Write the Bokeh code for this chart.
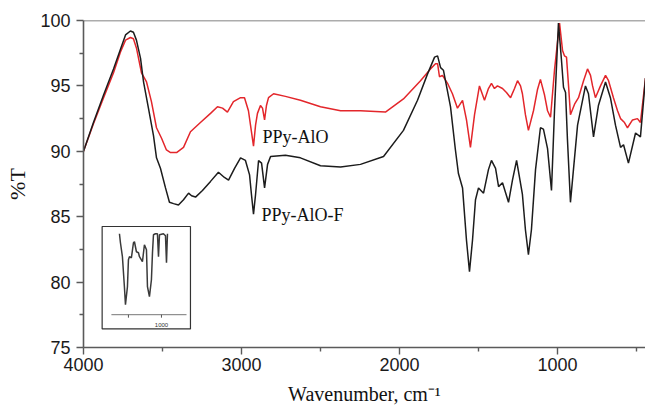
from bokeh.plotting import figure
from bokeh.models import Range1d, FixedTicker, Span
from bokeh.core.properties import value
from bokeh.embed import file_html
from bokeh.resources import INLINE

# ---- main spectra (wavenumber cm-1, %T) ----
black_wn = [4000, 3937, 3873, 3810, 3766, 3734, 3703, 3684, 3665, 3639, 3620, 3589, 3557, 3538,
            3513, 3481, 3456, 3430, 3399, 3367, 3335, 3316, 3291, 3247, 3196, 3146, 3108, 3082,
            3044, 3006, 2975, 2949, 2937, 2924, 2911, 2892, 2873, 2854, 2835, 2816, 2722, 2627,
            2500, 2373, 2247, 2101, 1975, 1886, 1823, 1778, 1759, 1740, 1722, 1677, 1646, 1627,
            1601, 1576, 1557, 1538, 1519, 1500, 1468, 1437, 1418, 1392, 1373, 1348, 1310, 1285,
            1259, 1222, 1203, 1184, 1165, 1139, 1108, 1089, 1063, 1038, 1019, 994, 975, 962, 949,
            937, 918, 899, 873, 823, 804, 772, 741, 696, 665, 633, 601, 582, 551, 506, 475, 443]
black_T = [90.0, 92.2, 94.3, 96.3, 97.8, 98.9, 99.2, 99.1, 98.5, 97.1, 95.3, 93.3, 91.2, 89.5,
           88.7, 87.2, 86.1, 86.0, 85.9, 86.3, 86.8, 86.6, 86.5, 87.0, 87.7, 88.4, 88.0, 87.8,
           88.7, 89.5, 89.3, 88.2, 86.7, 85.2, 86.7, 89.3, 89.1, 87.2, 89.0, 89.6, 89.7, 89.5,
           88.9, 88.8, 89.0, 89.6, 91.6, 93.9, 95.9, 97.2, 97.3, 96.4, 96.2, 93.4, 90.1, 88.3,
           87.2, 83.2, 80.8, 83.2, 86.3, 87.2, 86.8, 88.6, 89.3, 88.7, 87.3, 87.6, 86.1, 87.8,
           89.3, 86.7, 84.0, 82.1, 84.0, 88.6, 91.8, 91.7, 90.2, 87.0, 93.1, 99.8, 97.0, 94.9, 94.5,
           90.9, 86.1, 88.6, 92.0, 95.0, 94.4, 91.1, 93.5, 95.3, 94.1, 92.0, 90.3, 90.5, 89.1, 91.4,
           91.1, 95.6]

red_wn = [4000, 3937, 3873, 3810, 3766, 3734, 3703, 3684, 3665, 3633, 3601, 3570, 3538, 3506,
          3475, 3449, 3411, 3367, 3323, 3260, 3196, 3152, 3120, 3089, 3051, 3006, 2981, 2956,
          2943, 2924, 2911, 2899, 2880, 2867, 2854, 2842, 2829, 2797, 2722, 2627, 2500, 2373,
          2247, 2089, 1975, 1867, 1804, 1772, 1759, 1747, 1728, 1696, 1665, 1633, 1601, 1576,
          1551, 1525, 1494, 1462, 1437, 1418, 1399, 1380, 1348, 1323, 1297, 1272, 1253, 1234,
          1222, 1203, 1184, 1152, 1127, 1108, 1082, 1063, 1044, 1019, 987, 968, 956, 943, 930,
          918, 892, 867, 835, 810, 791, 778, 760, 728, 696, 677, 665, 646, 620, 601, 576, 557,
          525, 494, 475, 443]
red_T = [90.0, 92.1, 94.1, 96.0, 97.6, 98.5, 98.7, 98.6, 97.9, 96.0, 95.3, 93.8, 91.8, 91.0,
         90.1, 89.9, 89.9, 90.3, 91.5, 92.2, 92.9, 93.4, 93.3, 93.0, 93.8, 94.1, 94.1, 93.1,
         92.0, 90.4, 92.0, 92.9, 93.5, 93.3, 92.4, 93.5, 94.1, 94.4, 94.2, 93.9, 93.4, 93.1,
         93.1, 93.0, 94.0, 95.4, 96.3, 96.7, 96.7, 95.7, 95.8, 95.2, 94.4, 93.3, 93.9, 92.4,
         90.3, 92.8, 95.0, 93.9, 94.8, 95.2, 94.8, 95.0, 94.8, 94.5, 94.1, 94.8, 95.4, 95.0,
         94.4, 92.8, 91.6, 93.1, 94.7, 95.5, 94.3, 93.1, 92.6, 96.2, 99.8, 97.7, 97.3, 97.2, 95.0,
         92.8, 93.6, 94.1, 95.4, 96.3, 95.8, 95.0, 94.1, 95.0, 95.8, 95.4, 94.9, 94.1, 93.1, 92.5,
         92.2, 91.8, 92.4, 92.5, 92.2, 95.6]

series_names = ["PPy-AlO", "PPy-AlO-F"]
label_wn = [2867, 2873]
label_T = [91.1, 85.1]

x_ticks = [4000, 3000, 2000, 1000]
x_minor = [3500, 2500, 1500, 500]
y_ticks = [75, 80, 85, 90, 95, 100]
y_minor = [77.5, 82.5, 87.5, 92.5, 97.5]

# ---- inset spectrum (its own wavenumber / %T units) ----
inset_wn = [1636, 1621, 1591, 1561, 1545, 1515, 1500, 1485, 1455, 1424, 1409, 1379, 1348, 1333,
            1288, 1258, 1227, 1212, 1182, 1152, 1136, 1121, 1091, 1061, 1045, 1030, 970, 939,
            924, 909]
inset_T = [100, 96.4, 90.8, 78.8, 71.6, 78.8, 89.6, 90.8, 90.4, 96.4, 96.8, 92.8, 92.4, 90.8,
           88.8, 95.6, 93.6, 78.8, 74.8, 81.6, 92.4, 99.6, 100, 100, 90.8, 99.6, 100, 99.2,
           88.4, 100]
inset_ticks = [1500, 1000]
inset_tick_labels = ["1000"]
inset_tick_label_wn = [1000]

# ---- geometry ----
X0, X1 = 4000, 443
Y0, Y1 = 75, 100
box_wn = (3882, 3323)
box_T = (76.42, 84.25)
IXL, IXR = 1898, 561
IYB, IYT = 61.9, 102.9
inset_axis_T = 67.6
inset_axis_span = (1758, 621)

fL = (X0 - box_wn[0]) / (X0 - X1)
fR = (X0 - box_wn[1]) / (X0 - X1)
ix_start = IXL + (0 - fL) / (fR - fL) * (IXR - IXL)
ix_end = IXL + (1 - fL) / (fR - fL) * (IXR - IXL)
gB = (box_T[0] - Y0) / (Y1 - Y0)
gT = (box_T[1] - Y0) / (Y1 - Y0)
iy_start = IYB + (0 - gB) / (gT - gB) * (IYT - IYB)
iy_end = IYB + (1 - gB) / (gT - gB) * (IYT - IYB)

p = figure(width=645, height=407, output_backend="svg", toolbar_location=None,
           x_range=Range1d(X0, X1), y_range=Range1d(Y0, Y1),
           min_border_left=83, min_border_right=0, min_border_top=20, min_border_bottom=59)
p.extra_x_ranges = {"ix": Range1d(ix_start, ix_end)}
p.extra_y_ranges = {"iy": Range1d(iy_start, iy_end)}

p.outline_line_color = None
p.xgrid.visible = False
p.ygrid.visible = False
p.background_fill_color = "white"
p.border_fill_color = "white"

axis_col = "#5a5a5a"
for ax in (p.xaxis[0], p.yaxis[0]):
    ax.axis_line_color = axis_col
    ax.axis_line_width = 1.6
    ax.major_tick_line_color = axis_col
    ax.minor_tick_line_color = axis_col
    ax.major_tick_line_width = 1.4
    ax.minor_tick_line_width = 1.4
    ax.major_tick_in = 0
    ax.minor_tick_in = 0
    ax.major_tick_out = 7
    ax.minor_tick_out = 4
    ax.major_label_text_font = "Liberation Sans"
    ax.major_label_text_font_size = "18px"
    ax.major_label_text_color = "#1a1a1a"
    ax.axis_label_text_font = "Liberation Serif"
    ax.axis_label_text_font_size = "20px"
    ax.axis_label_text_font_style = "normal"
    ax.axis_label_text_color = "#111111"

p.xaxis[0].ticker = FixedTicker(ticks=x_ticks, minor_ticks=x_minor)
p.yaxis[0].ticker = FixedTicker(ticks=y_ticks, minor_ticks=y_minor)
p.xaxis[0].major_label_standoff = 3
p.yaxis[0].major_label_standoff = 6
p.xaxis[0].axis_label = "Wavenumber, cm⁻¹"
p.yaxis[0].axis_label = "%T"
p.yaxis[0].axis_label_text_font_size = "22px"
p.xaxis[0].axis_label_standoff = 9
p.yaxis[0].axis_label_standoff = 7

p.add_layout(Span(location=Y1, dimension="width", line_color=axis_col, line_width=1.6))

p.line(red_wn, red_T, line_color="#e3262b", line_width=1.5)
p.line(black_wn, black_T, line_color="#1c1c1c", line_width=1.5)

p.text(x=label_wn, y=label_T, text=series_names, text_font=value("Liberation Serif"),
       text_font_size=value("18px"), text_baseline="middle", text_align="left",
       text_color="#111111")

# ---- inset ----
p.quad(left=[IXL], right=[IXR], bottom=[IYB], top=[IYT], fill_color="white",
       line_color="#333333", line_width=1.2, x_range_name="ix", y_range_name="iy")
p.segment(x0=[inset_axis_span[0]], x1=[inset_axis_span[1]], y0=[inset_axis_T], y1=[inset_axis_T],
          line_color="#777777", line_width=1, x_range_name="ix", y_range_name="iy")
p.segment(x0=inset_ticks, x1=inset_ticks, y0=[inset_axis_T] * 2, y1=[inset_axis_T - 1.2] * 2,
          line_color="#555555", line_width=1, x_range_name="ix", y_range_name="iy")
p.text(x=inset_tick_label_wn, y=[inset_axis_T - 4.0], text=inset_tick_labels,
       text_font=value("Liberation Sans"), text_font_size=value("6px"), text_align="center",
       text_baseline="middle", text_color="#333333", x_range_name="ix", y_range_name="iy")
p.line(inset_wn, inset_T, line_color="#3a3a3a", line_width=1.5, x_range_name="ix", y_range_name="iy")

open("out.html", "w").write(file_html(p, INLINE))
